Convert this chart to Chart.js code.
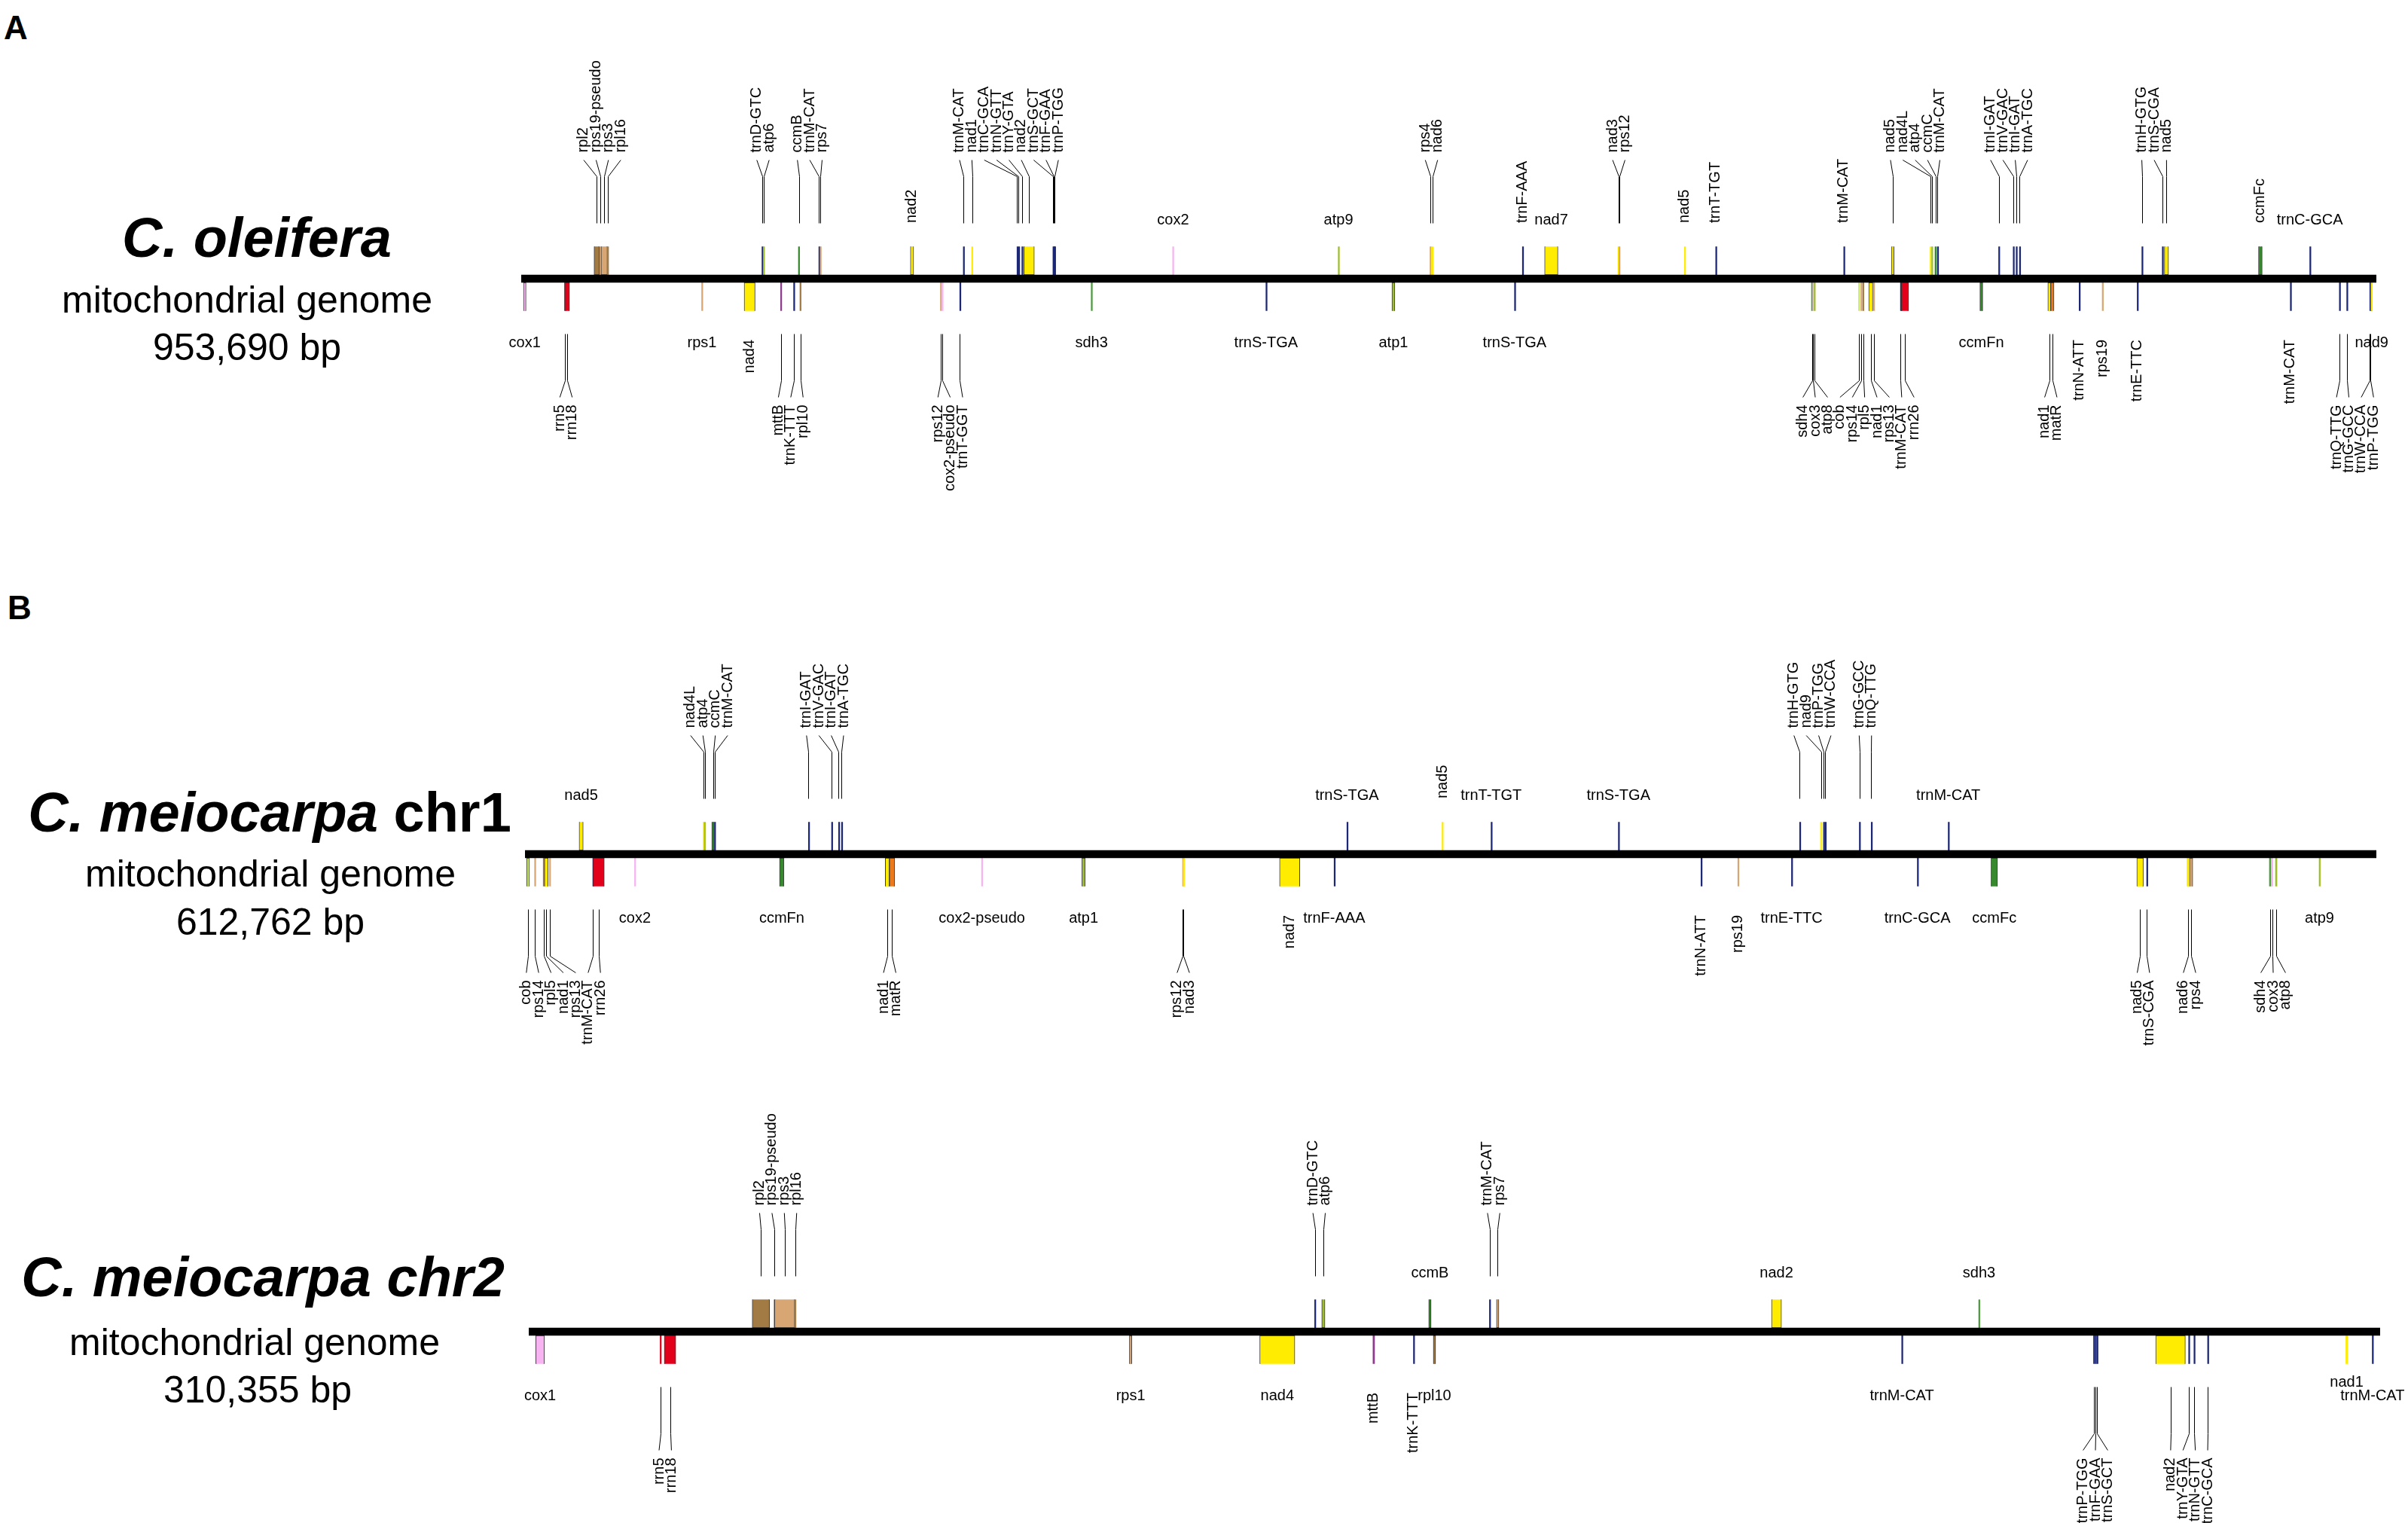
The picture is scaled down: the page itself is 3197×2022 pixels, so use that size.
<!DOCTYPE html>
<html>
<head>
<meta charset="utf-8">
<title>Mitochondrial genome maps</title>
<script src="https://cdn.jsdelivr.net/npm/chart.js@4.4.1/dist/chart.umd.min.js"></script>
<style>
  html, body { margin: 0; padding: 0; background: #fff; }
  body { width: 3197px; height: 2022px; position: relative; overflow: hidden;
         font-family: "Liberation Sans", Arial, Helvetica, sans-serif; color: #000; }
  canvas { position: absolute; left: 0; }
  .t { position: absolute; transform: translate(-50%, -50%); white-space: nowrap; line-height: 1; }
  .tag { font-size: 44px; font-weight: bold; }
  .sp { font-size: 74px; font-weight: bold; }
  .sub { font-size: 50px; }
</style>
</head>
<body>
<div class="t tag" style="left:21px;top:37px">A</div>
<div class="t tag" style="left:26px;top:807px">B</div>

<div class="t sp" style="left:341px;top:316px"><i>C. oleifera</i></div>
<div class="t sub" style="left:328px;top:398px">mitochondrial genome</div>
<div class="t sub" id="len0" style="left:328px;top:461px"></div>

<div class="t sp" style="left:358px;top:1079px"><i>C. meiocarpa</i> chr1</div>
<div class="t sub" style="left:359px;top:1160px">mitochondrial genome</div>
<div class="t sub" id="len1" style="left:359px;top:1224px"></div>

<div class="t sp" style="left:349px;top:1696px"><i>C. meiocarpa chr2</i></div>
<div class="t sub" style="left:338px;top:1782px">mitochondrial genome</div>
<div class="t sub" id="len2" style="left:342px;top:1845px"></div>

<canvas id="map0" width="3197" height="680"></canvas>
<canvas id="map1" width="3197" height="680"></canvas>
<canvas id="map2" width="3197" height="680"></canvas>

<script>
// genome sizes (bp)
const genomeSizes = [953690, 612762, 310355];

// ---- C. oleifera, genes on the upper (forward) side, positions in kb ----
const oleFwdNames = ['rpl2','rps19-pseudo','rps3','rpl16','trnD-GTC','atp6','ccmB','trnM-CAT','rps7','nad2','trnM-CAT','nad1','trnC-GCA','trnN-GTT','trnY-GTA','nad2','trnS-GCT','trnF-GAA','trnP-TGG','cox2','atp9','rps4','nad6','trnF-AAA','nad7','nad3','rps12','nad5','trnT-TGT','trnM-CAT','nad5','nad4L','atp4','ccmC','trnM-CAT','trnI-GAT','trnV-GAC','trnI-GAT','trnA-TGC','trnH-GTG','trnS-CGA','nad5','ccmFc','trnC-GCA'];
const oleFwdStart = [37.44, 40.35, 41.01, 44.30, 123.75, 124.49, 142.49, 152.99, 153.65, 200.07, 227.26, 231.55, 254.86, 255.68, 257.34, 258.39, 273.33, 273.72, 274.15, 334.86, 420.00, 467.17, 467.94, 514.68, 526.10, 563.78, 564.29, 597.97, 614.04, 679.86, 704.49, 724.28, 725.05, 726.79, 728.03, 759.49, 766.98, 768.50, 770.20, 833.12, 843.62, 844.70, 893.10, 919.43];
const oleFwdEnd = [40.15, 40.73, 44.30, 44.72, 123.83, 125.07, 143.07, 153.07, 154.11, 201.74, 227.34, 232.13, 254.94, 255.76, 257.42, 263.77, 273.41, 273.80, 274.23, 335.32, 420.30, 467.75, 468.91, 514.76, 532.96, 564.17, 564.75, 598.36, 614.12, 679.94, 705.77, 724.86, 725.63, 727.57, 728.11, 759.57, 767.06, 768.58, 770.28, 833.20, 843.70, 846.83, 894.99, 919.51];
// ---- C. oleifera, lower (reverse) side ----
const oleRevNames = ['cox1','rrn5','rrn18','rps1','nad4','mttB','trnK-TTT','rpl10','rps12','cox2-pseudo','trnT-GGT','sdh3','trnS-TGA','atp1','trnS-TGA','sdh4','cox3','atp8','cob','rps14','rpl5','nad1','rps13','trnM-CAT','rrn26','ccmFn','nad1','matR','trnN-ATT','rps19','trnE-TTC','trnM-CAT','trnQ-TTG','trnG-GCC','trnW-CCA','trnP-TGG','nad9'];
const oleRevStart = [1.16, 22.23, 22.69, 92.74, 114.61, 133.32, 140.02, 143.27, 215.48, 216.30, 225.43, 293.00, 382.83, 447.61, 510.61, 663.29, 663.95, 664.65, 687.49, 688.65, 689.62, 692.72, 695.12, 709.02, 709.44, 749.87, 784.80, 786.27, 800.87, 812.75, 830.72, 909.44, 934.65, 938.44, 950.30, 950.72, 950.95];
const oleRevEnd = [2.48, 22.35, 24.86, 93.12, 120.23, 133.78, 140.10, 143.85, 215.87, 216.60, 225.51, 293.30, 382.91, 449.13, 510.69, 663.87, 664.45, 665.23, 688.07, 689.04, 690.20, 694.85, 695.50, 709.10, 713.24, 751.35, 786.27, 787.97, 800.95, 813.14, 830.80, 909.52, 934.73, 938.52, 950.38, 950.80, 951.57];

// ---- C. meiocarpa chr1 ----
const chr1FwdNames = ['nad5','nad4L','atp4','ccmC','trnM-CAT','trnI-GAT','trnV-GAC','trnI-GAT','trnA-TGC','trnS-TGA','nad5','trnT-TGT','trnS-TGA','trnH-GTG','nad9','trnP-TGG','trnW-CCA','trnG-GCC','trnQ-TTG','trnM-CAT'];
const chr1FwdStart = [17.92, 58.96, 59.33, 61.82, 62.70, 93.81, 101.46, 103.78, 104.75, 272.03, 303.52, 319.74, 361.87, 421.86, 428.78, 429.76, 430.31, 441.62, 445.56, 471.04];
const chr1FwdEnd = [19.27, 59.33, 59.71, 62.62, 62.78, 93.89, 101.54, 103.86, 104.83, 272.11, 303.76, 319.82, 361.95, 421.94, 429.16, 429.84, 430.39, 441.70, 445.64, 471.12];
const chr1RevNames = ['cob','rps14','rpl5','nad1','rps13','trnM-CAT','rrn26','cox2','ccmFn','nad1','matR','cox2-pseudo','atp1','rps12','nad3','nad7','trnF-AAA','trnN-ATT','rps19','trnE-TTC','trnC-GCA','ccmFc','nad5','trnS-CGA','nad6','rps4','sdh4','cox3','atp8','atp9'];
const chr1RevStart = [0.55, 3.17, 6.03, 6.43, 8.08, 22.44, 22.56, 36.25, 84.24, 119.24, 120.61, 151.10, 184.33, 217.63, 217.88, 249.74, 267.79, 389.22, 401.41, 419.17, 460.82, 485.23, 533.47, 536.73, 550.07, 550.89, 577.36, 577.99, 579.36, 593.82];
const chr1RevEnd = [1.50, 3.42, 6.28, 7.65, 8.33, 22.52, 26.25, 36.50, 85.73, 120.61, 122.38, 151.35, 185.43, 217.88, 218.13, 256.45, 267.87, 389.30, 401.66, 419.25, 460.90, 487.39, 535.63, 536.81, 550.76, 551.99, 577.86, 578.49, 579.86, 594.07];

// ---- C. meiocarpa chr2 ----
const chr2FwdNames = ['rpl2','rps19-pseudo','rps3','rpl16','trnD-GTC','atp6','ccmB','trnM-CAT','rps7','nad2','sdh3'];
const chr2FwdStart = [37.46, 41.06, 41.20, 44.60, 131.74, 132.93, 150.86, 161.04, 162.22, 208.33, 243.06];
const chr2FwdEnd = [40.37, 41.20, 44.60, 44.80, 131.82, 133.47, 151.27, 161.12, 162.63, 210.00, 243.18];
const chr2RevNames = ['cox1','rrn5','rrn18','rps1','nad4','mttB','trnK-TTT','rpl10','trnM-CAT','trnP-TGG','trnF-GAA','trnS-GCT','nad2','trnY-GTA','trnN-GTT','trnC-GCA','nad1','trnM-CAT'];
const chr2RevStart = [1.17, 22.02, 22.71, 100.69, 122.54, 141.52, 148.30, 151.63, 230.15, 262.31, 262.59, 262.87, 272.73, 278.25, 279.14, 281.43, 304.61, 309.03];
const chr2RevEnd = [2.63, 22.14, 24.65, 101.11, 128.42, 141.79, 148.38, 152.03, 230.23, 262.39, 262.67, 262.95, 277.70, 278.33, 279.22, 281.51, 304.89, 309.11];

// label style per gene: H = flat, V = upright near the track, lowercase = fanned group
const oleFwdTier  = 'aaaabbcccVdddddddddHHeeVHffVVVgggggiiiijjjVH';
const oleRevTier  = 'HkkHVlllmmmHHHHnnnnnnnnnnHooVVVVppppH';
const chr1FwdTier = 'HaaaabbbbHVHHccccddH';
const chr1RevTier = 'eeeeeeeHHffHHggVHVVHHHiijjkkkH';
const chr2FwdTier = 'aaaabbHccHH';
const chr2RevTier = 'HddHHVVHHeeeffffHH';

// layout of the three maps on the page
const trackCenters = [370, 1134, 1768];
const trackLeft = [692, 697, 702];
const trackRight = [3155, 3155, 3160];

const LABEL_FONT = '20px "Liberation Sans", Arial, sans-serif';
const LABEL_GAP = 16.4;

const tracks = [
  { fwd: { names: oleFwdNames, start: oleFwdStart, end: oleFwdEnd, tiers: oleFwdTier.split('') },
    rev: { names: oleRevNames, start: oleRevStart, end: oleRevEnd, tiers: oleRevTier.split('') } },
  { fwd: { names: chr1FwdNames, start: chr1FwdStart, end: chr1FwdEnd, tiers: chr1FwdTier.split('') },
    rev: { names: chr1RevNames, start: chr1RevStart, end: chr1RevEnd, tiers: chr1RevTier.split('') } },
  { fwd: { names: chr2FwdNames, start: chr2FwdStart, end: chr2FwdEnd, tiers: chr2FwdTier.split('') },
    rev: { names: chr2RevNames, start: chr2RevStart, end: chr2RevEnd, tiers: chr2RevTier.split('') } }
];

// colour by gene family
function geneColor(name) {
  if (name.startsWith('trn')) return '#1c2775';
  if (name.startsWith('rrn')) return '#e2001a';
  if (name.startsWith('nad')) return '#ffec00';
  if (name.startsWith('atp')) return '#9fbf2a';
  if (name.startsWith('ccm')) return '#368a2d';
  if (name.startsWith('cob')) return '#c8e66e';
  if (name.startsWith('cox')) return '#f7b3f2';
  if (name.startsWith('sdh')) return '#4c9b3d';
  if (name.startsWith('rps')) return '#d8a673';
  if (name.startsWith('rpl')) return '#a17a44';
  if (name === 'matR') return '#ea7a1c';
  if (name === 'mttB') return '#8c3d8c';
  return '#999999';
}

// rotated text, reading bottom to top
function vText(ctx, text, x, y, align) {
  ctx.save();
  ctx.translate(x, y);
  ctx.rotate(-Math.PI / 2);
  ctx.textAlign = align;
  ctx.textBaseline = 'middle';
  ctx.fillText(text, 0, 0);
  ctx.restore();
}

function labelPlugin(track) {
  return {
    id: 'geneLabels',
    afterDatasetsDraw(chart) {
      const ctx = chart.ctx;
      const xs = chart.scales.x;
      const c = chart.scales.y.getPixelForValue(1);
      ctx.save();
      ctx.font = LABEL_FONT;
      ctx.fillStyle = '#000';
      ctx.strokeStyle = '#000';
      ctx.lineWidth = 1;

      [track.fwd, track.rev].forEach((side, s) => {
        const dir = s === 0 ? -1 : 1;   // -1 above the line, +1 below
        const items = side.names.map((n, i) => ({
          name: n,
          tier: side.tiers[i],
          x: xs.getPixelForValue((side.start[i] + side.end[i]) / 2)
        }));

        // fanned groups with leader lines
        const groups = {};
        items.forEach(d => {
          if (d.tier !== 'H' && d.tier !== 'V') (groups[d.tier] = groups[d.tier] || []).push(d);
        });
        Object.values(groups).forEach(g => {
          g.sort((a, b) => a.x - b.x);
          const mid = (g[0].x + g[g.length - 1].x) / 2;
          g.forEach((d, k) => {
            const lx = mid + (k - (g.length - 1) / 2) * LABEL_GAP;
            const gx = Math.round(d.x) + 0.5;
            ctx.beginPath();
            ctx.moveTo(gx, c + dir * 73.5);
            ctx.lineTo(gx, c + dir * 135.5);
            ctx.lineTo(lx, c + dir * 157.5);
            ctx.stroke();
            vText(ctx, d.name, lx, c + dir * 167.5, dir < 0 ? 'left' : 'right');
          });
        });

        // single upright labels
        items.filter(d => d.tier === 'V').forEach(d => {
          vText(ctx, d.name, d.x, dir < 0 ? c - 74 : c + 81, dir < 0 ? 'left' : 'right');
        });

        // flat labels
        const flat = items.filter(d => d.tier === 'H').sort((a, b) => a.x - b.x);
        flat.forEach(d => { d.w = ctx.measureText(d.name).width; });
        ctx.textAlign = 'center';
        ctx.textBaseline = 'alphabetic';
        flat.forEach((d, k) => {
          const nx = flat[k + 1];
          const crowded = nx && d.x + d.w / 2 > nx.x - nx.w / 2;
          const y = dir < 0 ? c - 72.5 + (crowded ? 18 : 0) : c + 90.5 - (crowded ? 18 : 0);
          ctx.fillText(d.name, d.x, y);
        });
      });
      ctx.restore();
    }
  };
}

tracks.forEach((t, i) => {
  document.getElementById('len' + i).textContent = genomeSizes[i].toLocaleString('en-US') + ' bp';

  const canvas = document.getElementById('map' + i);
  canvas.style.top = (trackCenters[i] - 340) + 'px';
  const L = genomeSizes[i] / 1000;

  const genes = [];
  const colors = [];
  [[t.fwd, '+'], [t.rev, '-']].forEach(([side, strand]) => {
    side.names.forEach((n, k) => {
      genes.push({ x: [side.start[k], side.end[k]], y: strand, name: n });
      colors.push(geneColor(n));
    });
  });

  new Chart(canvas, {
    type: 'bar',
    data: {
      labels: ['+', 'track', '-'],
      datasets: [
        {
          data: [{ x: [0, L], y: 'track' }],
          backgroundColor: '#000',
          borderWidth: 0,
          barThickness: 10,
          grouped: false
        },
        {
          data: genes,
          backgroundColor: colors,
          borderColor: '#3a3a3a',
          borderWidth: (ctx) => {
            const r = ctx.raw;
            const xs = ctx.chart.scales.x;
            if (!r || !xs) return 0;
            return Math.abs(xs.getPixelForValue(r.x[1]) - xs.getPixelForValue(r.x[0])) > 3 ? 1 : 0;
          },
          borderSkipped: false,
          barThickness: 47,
          minBarLength: 1.6,
          grouped: false
        }
      ]
    },
    options: {
      indexAxis: 'y',
      responsive: false,
      animation: false,
      devicePixelRatio: 1,
      events: [],
      layout: { padding: { left: trackLeft[i], right: 3197 - trackRight[i], top: 297.25, bottom: 297.25 } },
      scales: {
        x: { type: 'linear', min: 0, max: L, display: false },
        y: { type: 'category', display: false, offset: true }
      },
      plugins: { legend: { display: false }, tooltip: { enabled: false } }
    },
    plugins: [labelPlugin(t)]
  });
});
</script>
</body>
</html>
